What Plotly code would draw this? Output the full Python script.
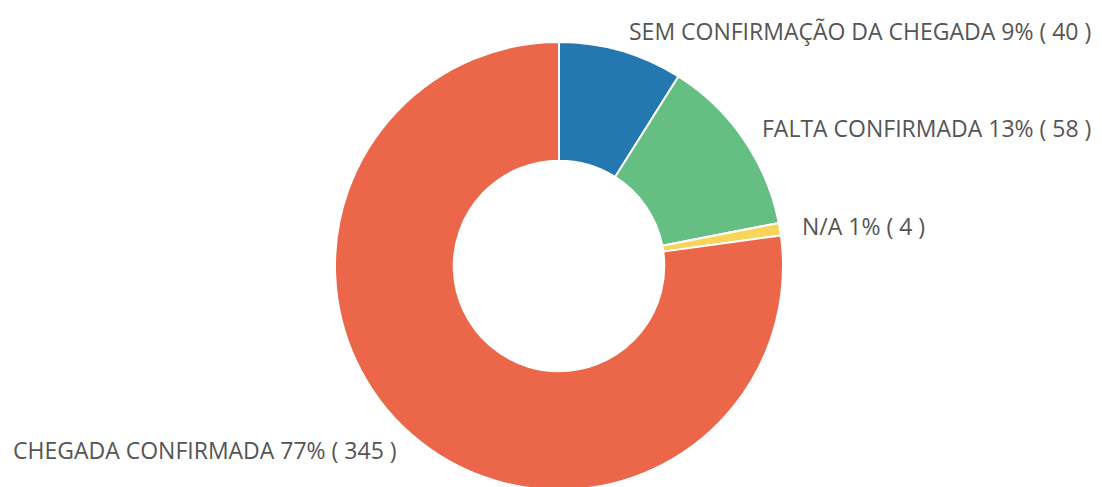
import math
import plotly.graph_objects as go

labels = ['SEM CONFIRMAÇÃO DA CHEGADA', 'FALTA CONFIRMADA', 'N/A', 'CHEGADA CONFIRMADA']
values = [40, 58, 4, 345]
colors = ['#2378B0', '#66BF82', '#F8D45A', '#EC6649']

# the page body adds an 8px margin, so the figure is a bit smaller than the frame
W, H = 1094, 482
M = dict(l=8, r=0, t=34, b=0)
TEXT = dict(family='Open Sans, sans-serif', size=23, color='#555555')

fig = go.Figure(go.Pie(
    labels=labels,
    values=values,
    hole=0.47,
    sort=False,
    direction='clockwise',
    rotation=0,
    marker=dict(colors=colors, line=dict(color='#FFFFFF', width=2)),
    textinfo='none',
    hoverinfo='label+value+percent',
    showlegend=False,
))

# outside labels, placed at each slice's mid angle (plotly's own outside
# text shrinks the donut too much with labels this long)
pw, ph = W - M['l'] - M['r'], H - M['t'] - M['b']
rad = min(pw, ph) / 2
lab_r = rad * 1.09
total = sum(values)
cum = 0
for lab, v in zip(labels, values):
    ang = 2 * math.pi * (cum + v / 2) / total
    cum += v
    dx = lab_r * math.sin(ang)
    dy = lab_r * math.cos(ang)
    fig.add_annotation(
        x=0.5 + dx / pw, y=0.5 + dy / ph,
        xref='paper', yref='paper',
        text=f'{lab} {round(100 * v / total)}% ( {v} )',
        showarrow=False,
        xanchor='left' if dx >= 0 else 'right',
        yanchor='middle',
        font=TEXT,
    )

fig.update_layout(
    width=W,
    height=H,
    margin=M,
    paper_bgcolor='#FFFFFF',
    plot_bgcolor='#FFFFFF',
)
fig.write_html("out.html")
